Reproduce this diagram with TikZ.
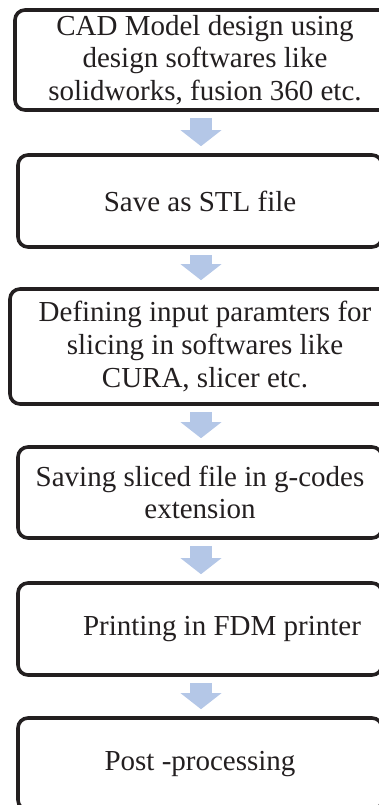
\documentclass[tikz,border=0pt]{standalone}
\usepackage{fontspec}
\setmainfont{Liberation Serif}
\usepackage{xcolor}
\usepackage{tikz}
\usetikzlibrary{arrows.meta}
\usetikzlibrary{positioning}

\definecolor{boxline}{HTML}{231F20}
\definecolor{arrowblue}{HTML}{B4C7E7}

\begin{document}
\begin{tikzpicture}[x=0.5pt, y=-0.5pt,
  stepbox/.style={draw=boxline, line width=1.8pt, rounded corners=5pt, align=center,
                  text=boxline, font=\fontsize{14.5pt}{16.3pt}\selectfont, inner sep=0pt},
  flowarrow/.style={draw=arrowblue, line width=11pt, shorten <=3pt, shorten >=3.5pt,
                    -{Triangle[width=20pt, length=8pt]}}]

 \useasboundingbox (0,0) rectangle (379,805);

 \node[stepbox, minimum width=190pt, minimum height=50pt] (cad) at (205,60)
      {CAD Model design using\\ design softwares like\\ solidworks, fusion 360 etc.};
 \node[stepbox, minimum width=182pt, minimum height=46pt] (stl) at (200,201)
      {Save as STL file};
 \node[stepbox, minimum width=195pt, minimum height=57.5pt] (slice) at (205,346.5)
      {Defining input paramters for\\ slicing in softwares like\\ CURA, slicer etc.};
 \node[stepbox, minimum width=182pt, minimum height=45.5pt] (gcode) at (200,492.5)
      {Saving sliced file in g-codes\\ extension};
 \node[stepbox, minimum width=182pt, minimum height=46pt] (print) at (200,629)
      {\hspace*{22pt}Printing in FDM printer};
 \node[stepbox, minimum width=182pt, minimum height=46pt] (post) at (200,764)
      {Post -processing};

 % block arrows between the steps
 \coordinate (axis) at (201,0);
 \foreach \a/\b in {cad/stl, stl/slice, slice/gcode, gcode/print, print/post}{
   \draw[flowarrow] (\a.south -| axis) -- (\b.north -| axis);
 }

\end{tikzpicture}
\end{document}
